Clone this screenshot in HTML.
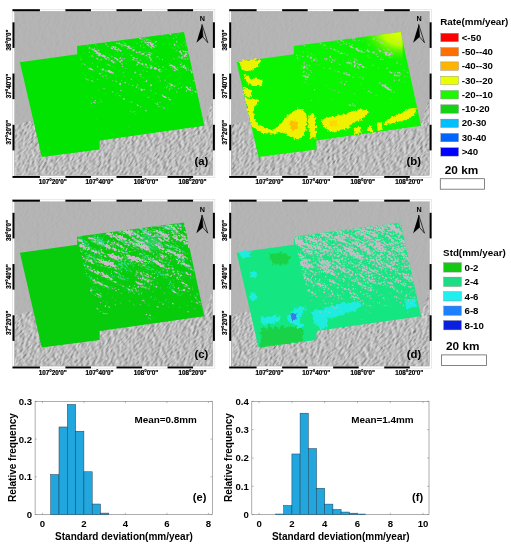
<!DOCTYPE html><html><head><meta charset="utf-8"><style>html,body{margin:0;padding:0;background:#fff;overflow:hidden}svg{display:block;will-change:transform}</style></head><body><svg width="511" height="550" viewBox="0 0 511 550">
<defs>
<filter id="hill" x="-50%" y="-50%" width="200%" height="200%" color-interpolation-filters="sRGB"><feTurbulence type="fractalNoise" baseFrequency="0.2 0.8" numOctaves="3" seed="4" result="n"/><feDiffuseLighting in="n" surfaceScale="1.2" diffuseConstant="0.91" lighting-color="#ffffff" result="l"><feDistantLight azimuth="225" elevation="55"/></feDiffuseLighting><feComposite in="l" in2="SourceGraphic" operator="in"/></filter>
<filter id="rag" x="-20%" y="-20%" width="140%" height="140%"><feTurbulence type="fractalNoise" baseFrequency="0.35" numOctaves="2" seed="2" result="t"/><feDisplacementMap in="SourceGraphic" in2="t" scale="5" xChannelSelector="R" yChannelSelector="G"/></filter>
<filter id="spkA" x="0" y="0" width="100%" height="100%" color-interpolation-filters="sRGB"><feTurbulence type="fractalNoise" baseFrequency="0.05 0.25" numOctaves="3" seed="3" result="t1"/><feColorMatrix in="t1" type="matrix" values="0 0 0 0 0  0 0 0 0 0  0 0 0 0 0  1 0 0 0 0" result="a1"/><feTurbulence type="fractalNoise" baseFrequency="0.5 0.9" numOctaves="1" seed="53" result="t2"/><feColorMatrix in="t2" type="matrix" values="0 0 0 0 0  0 0 0 0 0  0 0 0 0 0  1 0 0 0 0" result="a2"/><feComposite in="a1" in2="a2" operator="arithmetic" k1="0" k2="0.6" k3="0.6" k4="0" result="a12"/><feComposite in="a12" in2="SourceAlpha" operator="arithmetic" k1="0" k2="1" k3="0.25" k4="-0.925" result="sum"/><feComponentTransfer in="sum"><feFuncA type="linear" slope="14" intercept="0"/></feComponentTransfer><feColorMatrix type="matrix" values="0 0 0 0 0.784  0 0 0 0 0.737  0 0 0 0 0.784  0 0 0 1 0"/></filter>
<filter id="spkB" x="0" y="0" width="100%" height="100%" color-interpolation-filters="sRGB"><feTurbulence type="fractalNoise" baseFrequency="0.05 0.25" numOctaves="3" seed="4" result="t1"/><feColorMatrix in="t1" type="matrix" values="0 0 0 0 0  0 0 0 0 0  0 0 0 0 0  1 0 0 0 0" result="a1"/><feTurbulence type="fractalNoise" baseFrequency="0.5 0.9" numOctaves="1" seed="54" result="t2"/><feColorMatrix in="t2" type="matrix" values="0 0 0 0 0  0 0 0 0 0  0 0 0 0 0  1 0 0 0 0" result="a2"/><feComposite in="a1" in2="a2" operator="arithmetic" k1="0" k2="0.6" k3="0.6" k4="0" result="a12"/><feComposite in="a12" in2="SourceAlpha" operator="arithmetic" k1="0" k2="1" k3="0.25" k4="-0.95" result="sum"/><feComponentTransfer in="sum"><feFuncA type="linear" slope="14" intercept="0"/></feComponentTransfer><feColorMatrix type="matrix" values="0 0 0 0 0.784  0 0 0 0 0.737  0 0 0 0 0.784  0 0 0 1 0"/></filter>
<filter id="spkC" x="0" y="0" width="100%" height="100%" color-interpolation-filters="sRGB"><feTurbulence type="fractalNoise" baseFrequency="0.05 0.25" numOctaves="3" seed="5" result="t1"/><feColorMatrix in="t1" type="matrix" values="0 0 0 0 0  0 0 0 0 0  0 0 0 0 0  1 0 0 0 0" result="a1"/><feTurbulence type="fractalNoise" baseFrequency="0.5 0.9" numOctaves="1" seed="55" result="t2"/><feColorMatrix in="t2" type="matrix" values="0 0 0 0 0  0 0 0 0 0  0 0 0 0 0  1 0 0 0 0" result="a2"/><feComposite in="a1" in2="a2" operator="arithmetic" k1="0" k2="0.6" k3="0.6" k4="0" result="a12"/><feComposite in="a12" in2="SourceAlpha" operator="arithmetic" k1="0" k2="1" k3="0.25" k4="-0.86" result="sum"/><feComponentTransfer in="sum"><feFuncA type="linear" slope="14" intercept="0"/></feComponentTransfer><feColorMatrix type="matrix" values="0 0 0 0 0.784  0 0 0 0 0.737  0 0 0 0 0.784  0 0 0 1 0"/></filter>
<filter id="spkCt" x="0" y="0" width="100%" height="100%" color-interpolation-filters="sRGB"><feTurbulence type="fractalNoise" baseFrequency="0.06 0.25" numOctaves="3" seed="8" result="t1"/><feColorMatrix in="t1" type="matrix" values="0 0 0 0 0  0 0 0 0 0  0 0 0 0 0  1 0 0 0 0" result="a1"/><feTurbulence type="fractalNoise" baseFrequency="0.5 0.9" numOctaves="1" seed="58" result="t2"/><feColorMatrix in="t2" type="matrix" values="0 0 0 0 0  0 0 0 0 0  0 0 0 0 0  1 0 0 0 0" result="a2"/><feComposite in="a1" in2="a2" operator="arithmetic" k1="0" k2="0.6" k3="0.6" k4="0" result="a12"/><feComposite in="a12" in2="SourceAlpha" operator="arithmetic" k1="0" k2="1" k3="0.25" k4="-0.9" result="sum"/><feComponentTransfer in="sum"><feFuncA type="linear" slope="12" intercept="0"/></feComponentTransfer><feColorMatrix type="matrix" values="0 0 0 0 0.188  0 0 0 0 0.847  0 0 0 0 0.565  0 0 0 1 0"/></filter>
<filter id="spkD" x="0" y="0" width="100%" height="100%" color-interpolation-filters="sRGB"><feTurbulence type="fractalNoise" baseFrequency="0.05 0.25" numOctaves="3" seed="7" result="t1"/><feColorMatrix in="t1" type="matrix" values="0 0 0 0 0  0 0 0 0 0  0 0 0 0 0  1 0 0 0 0" result="a1"/><feTurbulence type="fractalNoise" baseFrequency="0.5 0.9" numOctaves="1" seed="57" result="t2"/><feColorMatrix in="t2" type="matrix" values="0 0 0 0 0  0 0 0 0 0  0 0 0 0 0  1 0 0 0 0" result="a2"/><feComposite in="a1" in2="a2" operator="arithmetic" k1="0" k2="0.45" k3="0.75" k4="0" result="a12"/><feComposite in="a12" in2="SourceAlpha" operator="arithmetic" k1="0" k2="1" k3="0.3" k4="-0.86" result="sum"/><feComponentTransfer in="sum"><feFuncA type="linear" slope="14" intercept="0"/></feComponentTransfer><feColorMatrix type="matrix" values="0 0 0 0 0.769  0 0 0 0 0.737  0 0 0 0 0.769  0 0 0 1 0"/></filter>
<linearGradient id="dens" x1="0" y1="0" x2="0" y2="1"><stop offset="0" stop-color="#000" stop-opacity="1"/><stop offset="0.55" stop-color="#000" stop-opacity="0.75"/><stop offset="1" stop-color="#000" stop-opacity="0"/></linearGradient>
<radialGradient id="ycorner" cx="1" cy="0" r="1"><stop offset="0" stop-color="#f0ff00"/><stop offset="0.45" stop-color="#d8ff00" stop-opacity="0.85"/><stop offset="1" stop-color="#10ee00" stop-opacity="0"/></radialGradient>
<linearGradient id="smooth" x1="0" y1="0" x2="0" y2="1"><stop offset="0" stop-color="#b6b6b6"/><stop offset="1" stop-color="#b6b6b6" stop-opacity="0"/></linearGradient>
</defs>
<rect width="511" height="550" fill="#fff"/>
<clipPath id="clipa"><rect x="14.5" y="11.2" width="198.4" height="164.4"/></clipPath>
<g clip-path="url(#clipa)">
<rect x="14.5" y="11.2" width="198.4" height="164.4" fill="#b4b4b4"/>
<g opacity="0.08"><g transform="rotate(-48 110 90)"><rect x="-40" y="-40" width="300" height="260" fill="#b4b4b4" filter="url(#hill)"/></g></g>
<clipPath id="hsa"><polygon points="14.2,125.0 30.0,121.0 40.0,121.0 99.0,139.0 204.0,124.0 212.9,98.0 212.9,175.6 14.2,175.6"/></clipPath>
<g clip-path="url(#hsa)"><g transform="rotate(-48 110 150)"><rect x="-20" y="60" width="260" height="180" fill="#bdbdbd" filter="url(#hill)"/></g></g>
<polygon points="19.9,62.3 77.2,54.2 77.1,46.1 184.0,32.0 204.4,125.7 99.7,140.4 99.7,149.4 41.8,157.0" fill="#00e400"/><linearGradient id="gaspkA" gradientUnits="userSpaceOnUse" x1="119.0" y1="35.9" x2="168.3" y2="128.6"><stop offset="0.000" stop-color="#000" stop-opacity="1.0"/><stop offset="0.429" stop-color="#000" stop-opacity="0.85"/><stop offset="0.714" stop-color="#000" stop-opacity="0.55"/><stop offset="1.000" stop-color="#000" stop-opacity="0.0"/></linearGradient><clipPath id="rfaspkA"><polygon points="77.1,46.1 184.0,32.0 204.4,125.7 99.7,140.4"/></clipPath><g clip-path="url(#rfaspkA)"><g transform="rotate(28 142.5 80.0)"><rect x="30" y="-20" width="225" height="200" fill="url(#gaspkA)" filter="url(#spkA)"/></g></g>
</g>
<rect x="13.0" y="9.7" width="201.4" height="167.4" fill="none" stroke="#fff" stroke-width="1"/>
<rect x="12.5" y="9.2" width="202.4" height="168.4" fill="none" stroke="#c8c8c8" stroke-width="0.4"/>
<rect x="14.5" y="11.2" width="198.4" height="164.4" fill="none" stroke="#999" stroke-width="0.4"/>
<rect x="12.50" y="9.2" width="27.40" height="2.0" fill="#000"/>
<rect x="12.50" y="176.0" width="27.40" height="1.9" fill="#000"/>
<rect x="65.43" y="9.2" width="25.53" height="2.0" fill="#000"/>
<rect x="65.43" y="176.0" width="25.53" height="1.9" fill="#000"/>
<rect x="116.49" y="9.2" width="25.53" height="2.0" fill="#000"/>
<rect x="116.49" y="176.0" width="25.53" height="1.9" fill="#000"/>
<rect x="167.55" y="9.2" width="25.53" height="2.0" fill="#000"/>
<rect x="167.55" y="176.0" width="25.53" height="1.9" fill="#000"/>
<rect x="12.5" y="22.30" width="2.0" height="25.62" fill="#000"/>
<rect x="212.9" y="22.30" width="2.0" height="25.62" fill="#000"/>
<rect x="12.5" y="73.54" width="2.0" height="25.62" fill="#000"/>
<rect x="212.9" y="73.54" width="2.0" height="25.62" fill="#000"/>
<rect x="12.5" y="124.78" width="2.0" height="25.62" fill="#000"/>
<rect x="212.9" y="124.78" width="2.0" height="25.62" fill="#000"/>
<text font-family="Liberation Sans, sans-serif" font-weight="bold" font-size="6.3" stroke="#000" stroke-width="0.22" text-anchor="middle" transform="translate(10.6 39.9) rotate(-90)">38°0'0"</text>
<text font-family="Liberation Sans, sans-serif" font-weight="bold" font-size="6.3" stroke="#000" stroke-width="0.22" text-anchor="middle" transform="translate(10.6 86.1) rotate(-90)">37°40'0"</text>
<text font-family="Liberation Sans, sans-serif" font-weight="bold" font-size="6.3" stroke="#000" stroke-width="0.22" text-anchor="middle" transform="translate(10.6 132.3) rotate(-90)">37°20'0"</text>
<text font-family="Liberation Sans, sans-serif" font-weight="bold" font-size="6.3" stroke="#000" stroke-width="0.22" text-anchor="middle" x="52.8" y="184.3">107°20'0"</text>
<text font-family="Liberation Sans, sans-serif" font-weight="bold" font-size="6.3" stroke="#000" stroke-width="0.22" text-anchor="middle" x="99.5" y="184.3">107°40'0"</text>
<text font-family="Liberation Sans, sans-serif" font-weight="bold" font-size="6.3" stroke="#000" stroke-width="0.22" text-anchor="middle" x="146.0" y="184.3">108°0'0"</text>
<text font-family="Liberation Sans, sans-serif" font-weight="bold" font-size="6.3" stroke="#000" stroke-width="0.22" text-anchor="middle" x="192.5" y="184.3">108°20'0"</text>
<text font-family="Liberation Sans, sans-serif" font-weight="bold" font-size="7.2" text-anchor="middle" x="202.4" y="21.1">N</text>
<polygon points="202.0,24.5 196.4,42.7 202.9,36.9" fill="#000"/>
<polygon points="202.0,24.5 207.8,42.7 202.9,36.9" fill="none" stroke="#000" stroke-width="0.7" stroke-linejoin="miter"/>
<text font-family="Liberation Sans, sans-serif" font-weight="bold" font-size="11.4" x="194.4" y="164.5">(a)</text>
<clipPath id="clipb"><rect x="231.2" y="11.2" width="198.4" height="164.4"/></clipPath>
<g clip-path="url(#clipb)">
<rect x="231.2" y="11.2" width="198.4" height="164.4" fill="#b4b4b4"/>
<g opacity="0.08"><g transform="rotate(-48 326.7 90)"><rect x="176.7" y="-40" width="300" height="260" fill="#b4b4b4" filter="url(#hill)"/></g></g>
<clipPath id="hsb"><polygon points="230.9,125.0 246.7,121.0 256.7,121.0 315.7,139.0 420.7,124.0 429.6,98.0 429.6,175.6 230.9,175.6"/></clipPath>
<g clip-path="url(#hsb)"><g transform="rotate(-48 326.7 150)"><rect x="196.7" y="60" width="260" height="180" fill="#bdbdbd" filter="url(#hill)"/></g></g>
<polygon points="236.6,62.3 293.9,54.2 293.8,46.1 400.7,32.0 421.1,125.7 316.4,140.4 316.4,149.4 258.5,157.0" fill="#0af500"/><g transform="translate(216.7 0.0)"><g filter="url(#rag)"><path d="M23,61 L30,60 L38,59.5 L43,60 L43.5,64 L40,67 L36,70.5 L30,71 L25,69 L23.5,65 Z" fill="#eef200"/><path d="M27,75 L31,76 L35,78.5 L40,78.5 L45.5,80 L45.5,84.5 L41,86 L36,86 L32,84 L29,80 Z" fill="#eef200"/><path d="M26.5,87.5 L31,88 L35,90 L35.5,94 L33,97 L29,97.5 L27.5,93 Z" fill="#eef200"/><path d="M29,98 L36,98 L41,100 L41.5,104 L37.5,106.5 L37,113 L38.5,120 L41,124 L45,127 L50,129 L55,129.5 L59,128 L62.5,125 L66,122 L68,125 L67,132 L60,133.5 L51,133.5 L45,132 L39,129.5 L35,126 L33,119 L31,110 L29.5,104 Z" fill="#eef200"/><path d="M66,121 L69,116.5 L73,114 L77,112.5 L80,109.5 L84,109 L87.5,110.5 L89.5,114 L90,119 L89.5,126 L88.5,132 L86.5,136.5 L82,139.5 L77,138.5 L72,136 L68,133.5 L66,128 Z" fill="#eef200"/><path d="M91.5,114 L97,113.5 L99,120 L99.5,130 L99,138.5 L94,138 L92,130 Z" fill="#eef200"/><path d="M104,120 L112,117 L120,116 L128,114 L136,111 L142,109.5 L150,109 L151,113 L148,118 L140,121 L134,124 L128,128 L122,131 L116,133 L110,130 L106,125 Z" fill="#eef200"/><path d="M123.5,122.5 L132.5,122 L133,129 L124,129.5 Z" fill="#eef200"/><path d="M137,127.5 L144,127 L145,133.5 L138,134 Z" fill="#eef200"/><path d="M151,126 L155,126 L156,132 L151,132 Z" fill="#eef200"/><path d="M160,123 L165,122 L166,130 L161,131 Z" fill="#eef200"/><path d="M168,121 L174,118 L180,115 L186,112 L193,108.5 L199,108 L199.5,114 L194,117 L189,120 L180,122 L173,124.5 L168,124.5 Z" fill="#eef200"/><path d="M73,121.5 L80,120.5 L81.5,127 L79,130.5 L74,130 Z" fill="#ffbe00"/><path d="M112,121 L120,120 L121,126 L113,127 Z" fill="#ffd800"/></g></g><clipPath id="cb"><polygon points="236.6,62.3 293.9,54.2 293.8,46.1 400.7,32.0 421.1,125.7 316.4,140.4 316.4,149.4 258.5,157.0"/></clipPath><rect x="356.7" y="30" width="46" height="34" fill="url(#ycorner)" clip-path="url(#cb)"/><linearGradient id="gbspkB" gradientUnits="userSpaceOnUse" x1="335.7" y1="35.9" x2="385.0" y2="128.6"><stop offset="0.000" stop-color="#000" stop-opacity="1.0"/><stop offset="0.429" stop-color="#000" stop-opacity="0.85"/><stop offset="0.714" stop-color="#000" stop-opacity="0.55"/><stop offset="1.000" stop-color="#000" stop-opacity="0.0"/></linearGradient><clipPath id="rfbspkB"><polygon points="293.8,46.1 400.7,32.0 421.1,125.7 316.4,140.4"/></clipPath><g clip-path="url(#rfbspkB)"><g transform="rotate(28 359.2 80.0)"><rect x="246.7" y="-20" width="225" height="200" fill="url(#gbspkB)" filter="url(#spkB)"/></g></g>
</g>
<rect x="229.7" y="9.7" width="201.4" height="167.4" fill="none" stroke="#fff" stroke-width="1"/>
<rect x="229.2" y="9.2" width="202.4" height="168.4" fill="none" stroke="#c8c8c8" stroke-width="0.4"/>
<rect x="231.2" y="11.2" width="198.4" height="164.4" fill="none" stroke="#999" stroke-width="0.4"/>
<rect x="229.20" y="9.2" width="27.40" height="2.0" fill="#000"/>
<rect x="229.20" y="176.0" width="27.40" height="1.9" fill="#000"/>
<rect x="282.13" y="9.2" width="25.53" height="2.0" fill="#000"/>
<rect x="282.13" y="176.0" width="25.53" height="1.9" fill="#000"/>
<rect x="333.19" y="9.2" width="25.53" height="2.0" fill="#000"/>
<rect x="333.19" y="176.0" width="25.53" height="1.9" fill="#000"/>
<rect x="384.25" y="9.2" width="25.53" height="2.0" fill="#000"/>
<rect x="384.25" y="176.0" width="25.53" height="1.9" fill="#000"/>
<rect x="229.2" y="22.30" width="2.0" height="25.62" fill="#000"/>
<rect x="429.6" y="22.30" width="2.0" height="25.62" fill="#000"/>
<rect x="229.2" y="73.54" width="2.0" height="25.62" fill="#000"/>
<rect x="429.6" y="73.54" width="2.0" height="25.62" fill="#000"/>
<rect x="229.2" y="124.78" width="2.0" height="25.62" fill="#000"/>
<rect x="429.6" y="124.78" width="2.0" height="25.62" fill="#000"/>
<text font-family="Liberation Sans, sans-serif" font-weight="bold" font-size="6.3" stroke="#000" stroke-width="0.22" text-anchor="middle" transform="translate(227.3 39.9) rotate(-90)">38°0'0"</text>
<text font-family="Liberation Sans, sans-serif" font-weight="bold" font-size="6.3" stroke="#000" stroke-width="0.22" text-anchor="middle" transform="translate(227.3 86.1) rotate(-90)">37°40'0"</text>
<text font-family="Liberation Sans, sans-serif" font-weight="bold" font-size="6.3" stroke="#000" stroke-width="0.22" text-anchor="middle" transform="translate(227.3 132.3) rotate(-90)">37°20'0"</text>
<text font-family="Liberation Sans, sans-serif" font-weight="bold" font-size="6.3" stroke="#000" stroke-width="0.22" text-anchor="middle" x="269.5" y="184.3">107°20'0"</text>
<text font-family="Liberation Sans, sans-serif" font-weight="bold" font-size="6.3" stroke="#000" stroke-width="0.22" text-anchor="middle" x="316.2" y="184.3">107°40'0"</text>
<text font-family="Liberation Sans, sans-serif" font-weight="bold" font-size="6.3" stroke="#000" stroke-width="0.22" text-anchor="middle" x="362.7" y="184.3">108°0'0"</text>
<text font-family="Liberation Sans, sans-serif" font-weight="bold" font-size="6.3" stroke="#000" stroke-width="0.22" text-anchor="middle" x="409.2" y="184.3">108°20'0"</text>
<text font-family="Liberation Sans, sans-serif" font-weight="bold" font-size="7.2" text-anchor="middle" x="419.1" y="21.1">N</text>
<polygon points="418.7,24.5 413.1,42.7 419.6,36.9" fill="#000"/>
<polygon points="418.7,24.5 424.5,42.7 419.6,36.9" fill="none" stroke="#000" stroke-width="0.7" stroke-linejoin="miter"/>
<text font-family="Liberation Sans, sans-serif" font-weight="bold" font-size="11.4" x="406.5" y="164.8">(b)</text>
<clipPath id="clipc"><rect x="14.5" y="201.7" width="198.4" height="164.4"/></clipPath>
<g clip-path="url(#clipc)">
<rect x="14.5" y="201.7" width="198.4" height="164.4" fill="#b4b4b4"/>
<g opacity="0.08"><g transform="rotate(-48 110 280.5)"><rect x="-40" y="150.5" width="300" height="260" fill="#b4b4b4" filter="url(#hill)"/></g></g>
<clipPath id="hsc"><polygon points="14.2,315.5 30.0,311.5 40.0,311.5 99.0,329.5 204.0,314.5 212.9,288.5 212.9,366.1 14.2,366.1"/></clipPath>
<g clip-path="url(#hsc)"><g transform="rotate(-48 110 340.5)"><rect x="-20" y="250.5" width="260" height="180" fill="#bdbdbd" filter="url(#hill)"/></g></g>
<polygon points="19.9,252.8 77.2,244.7 77.1,236.6 184.0,222.5 204.4,316.2 99.7,330.9 99.7,339.9 41.8,347.5" fill="#06cc0c"/><ellipse cx="151" cy="242.5" rx="12" ry="7" fill="#30d27a" opacity="0.6" transform="rotate(20 151 242.5)"/><linearGradient id="gcspkCt" gradientUnits="userSpaceOnUse" x1="119.0" y1="226.4" x2="168.3" y2="319.1"><stop offset="0.000" stop-color="#000" stop-opacity="1.0"/><stop offset="0.429" stop-color="#000" stop-opacity="0.85"/><stop offset="0.714" stop-color="#000" stop-opacity="0.55"/><stop offset="1.000" stop-color="#000" stop-opacity="0.0"/></linearGradient><clipPath id="rfcspkCt"><polygon points="77.1,236.6 184.0,222.5 204.4,316.2 99.7,330.9"/></clipPath><g clip-path="url(#rfcspkCt)"><g transform="rotate(28 142.5 270.5)"><rect x="30" y="170.5" width="225" height="200" fill="url(#gcspkCt)" filter="url(#spkCt)"/></g></g><linearGradient id="gcspkC" gradientUnits="userSpaceOnUse" x1="119.0" y1="226.4" x2="168.3" y2="319.1"><stop offset="0.000" stop-color="#000" stop-opacity="1.0"/><stop offset="0.429" stop-color="#000" stop-opacity="0.85"/><stop offset="0.714" stop-color="#000" stop-opacity="0.55"/><stop offset="1.000" stop-color="#000" stop-opacity="0.0"/></linearGradient><clipPath id="rfcspkC"><polygon points="77.1,236.6 184.0,222.5 204.4,316.2 99.7,330.9"/></clipPath><g clip-path="url(#rfcspkC)"><g transform="rotate(28 142.5 270.5)"><rect x="30" y="170.5" width="225" height="200" fill="url(#gcspkC)" filter="url(#spkC)"/></g></g>
</g>
<rect x="13.0" y="200.2" width="201.4" height="167.4" fill="none" stroke="#fff" stroke-width="1"/>
<rect x="12.5" y="199.7" width="202.4" height="168.4" fill="none" stroke="#c8c8c8" stroke-width="0.4"/>
<rect x="14.5" y="201.7" width="198.4" height="164.4" fill="none" stroke="#999" stroke-width="0.4"/>
<rect x="12.50" y="199.7" width="27.40" height="2.0" fill="#000"/>
<rect x="12.50" y="366.5" width="27.40" height="1.9" fill="#000"/>
<rect x="65.43" y="199.7" width="25.53" height="2.0" fill="#000"/>
<rect x="65.43" y="366.5" width="25.53" height="1.9" fill="#000"/>
<rect x="116.49" y="199.7" width="25.53" height="2.0" fill="#000"/>
<rect x="116.49" y="366.5" width="25.53" height="1.9" fill="#000"/>
<rect x="167.55" y="199.7" width="25.53" height="2.0" fill="#000"/>
<rect x="167.55" y="366.5" width="25.53" height="1.9" fill="#000"/>
<rect x="12.5" y="212.80" width="2.0" height="25.62" fill="#000"/>
<rect x="212.9" y="212.80" width="2.0" height="25.62" fill="#000"/>
<rect x="12.5" y="264.04" width="2.0" height="25.62" fill="#000"/>
<rect x="212.9" y="264.04" width="2.0" height="25.62" fill="#000"/>
<rect x="12.5" y="315.28" width="2.0" height="25.62" fill="#000"/>
<rect x="212.9" y="315.28" width="2.0" height="25.62" fill="#000"/>
<text font-family="Liberation Sans, sans-serif" font-weight="bold" font-size="6.3" stroke="#000" stroke-width="0.22" text-anchor="middle" transform="translate(10.6 230.4) rotate(-90)">38°0'0"</text>
<text font-family="Liberation Sans, sans-serif" font-weight="bold" font-size="6.3" stroke="#000" stroke-width="0.22" text-anchor="middle" transform="translate(10.6 276.6) rotate(-90)">37°40'0"</text>
<text font-family="Liberation Sans, sans-serif" font-weight="bold" font-size="6.3" stroke="#000" stroke-width="0.22" text-anchor="middle" transform="translate(10.6 322.8) rotate(-90)">37°20'0"</text>
<text font-family="Liberation Sans, sans-serif" font-weight="bold" font-size="6.3" stroke="#000" stroke-width="0.22" text-anchor="middle" x="52.8" y="374.8">107°20'0"</text>
<text font-family="Liberation Sans, sans-serif" font-weight="bold" font-size="6.3" stroke="#000" stroke-width="0.22" text-anchor="middle" x="99.5" y="374.8">107°40'0"</text>
<text font-family="Liberation Sans, sans-serif" font-weight="bold" font-size="6.3" stroke="#000" stroke-width="0.22" text-anchor="middle" x="146.0" y="374.8">108°0'0"</text>
<text font-family="Liberation Sans, sans-serif" font-weight="bold" font-size="6.3" stroke="#000" stroke-width="0.22" text-anchor="middle" x="192.5" y="374.8">108°20'0"</text>
<text font-family="Liberation Sans, sans-serif" font-weight="bold" font-size="7.2" text-anchor="middle" x="202.4" y="211.6">N</text>
<polygon points="202.0,215.0 196.4,233.2 202.9,227.4" fill="#000"/>
<polygon points="202.0,215.0 207.8,233.2 202.9,227.4" fill="none" stroke="#000" stroke-width="0.7" stroke-linejoin="miter"/>
<text font-family="Liberation Sans, sans-serif" font-weight="bold" font-size="11.4" x="194.4" y="358.0">(c)</text>
<clipPath id="clipd"><rect x="231.2" y="201.7" width="198.4" height="164.4"/></clipPath>
<g clip-path="url(#clipd)">
<rect x="231.2" y="201.7" width="198.4" height="164.4" fill="#b4b4b4"/>
<g opacity="0.08"><g transform="rotate(-48 326.7 280.5)"><rect x="176.7" y="150.5" width="300" height="260" fill="#b4b4b4" filter="url(#hill)"/></g></g>
<clipPath id="hsd"><polygon points="230.9,315.5 246.7,311.5 256.7,311.5 315.7,329.5 420.7,314.5 429.6,288.5 429.6,366.1 230.9,366.1"/></clipPath>
<g clip-path="url(#hsd)"><g transform="rotate(-48 326.7 340.5)"><rect x="196.7" y="250.5" width="260" height="180" fill="#bdbdbd" filter="url(#hill)"/></g></g>
<polygon points="236.6,252.8 293.9,244.7 293.8,236.6 400.7,222.5 421.1,316.2 316.4,330.9 316.4,339.9 258.5,347.5" fill="#14e682"/><g transform="translate(216.7 190.5)"><g filter="url(#rag)"><path d="M44,141 L47,136 L50,140 L53,133 L56,139 L59,134 L62,139 L65,134 L68,138 L72,135 L77,137 L82,135 L86,137 L86,151 L44,157 Z" fill="#1ecb32bb"/><path d="M52,64 L66,62 L74,67 L70,74 L56,74 Z" fill="#1ecb32bb"/><path d="M22,61 L34,60 L33,66 L25,68 Z" fill="#22eeeedd"/><path d="M44,127 L52,126 L58,125 L64,126 L63,131 L56,133 L48,134 L44,131 Z" fill="#22eeeedd"/><path d="M70,126 L76,121 L80,117 L86,115.5 L89,118 L85,124 L83,130 L87,136 L82,138 L77,133.5 L72,131 Z" fill="#22eeeedd"/><path d="M94,122 L100,119 L106,121 L111,129 L110,137 L104,139 L98,132 Z" fill="#22eeeedd"/><path d="M106,118 L118,114 L130,112 L142,111.5 L145,115 L138,120 L126,124 L114,128 L108,126 Z" fill="#22eeeedd"/><path d="M188,110 L199,108 L200,116 L190,118 Z" fill="#22eeeedd"/><path d="M33,81 L40,80.5 L41,86 L34,87 Z" fill="#22eeeedd"/><path d="M33,103 L39,103 L40,109 L34,110 Z" fill="#22eeeedd"/><path d="M74,123 L79.5,122 L80,129 L75,130 Z" fill="#3a78e8"/></g></g><linearGradient id="gdspkD" gradientUnits="userSpaceOnUse" x1="335.7" y1="226.4" x2="385.0" y2="319.1"><stop offset="0.000" stop-color="#000" stop-opacity="1.0"/><stop offset="0.429" stop-color="#000" stop-opacity="0.85"/><stop offset="0.714" stop-color="#000" stop-opacity="0.55"/><stop offset="1.000" stop-color="#000" stop-opacity="0.0"/></linearGradient><clipPath id="rfdspkD"><polygon points="293.8,236.6 400.7,222.5 421.1,316.2 316.4,330.9"/></clipPath><g clip-path="url(#rfdspkD)"><g transform="rotate(28 359.2 270.5)"><rect x="246.7" y="170.5" width="225" height="200" fill="url(#gdspkD)" filter="url(#spkD)"/></g></g>
</g>
<rect x="229.7" y="200.2" width="201.4" height="167.4" fill="none" stroke="#fff" stroke-width="1"/>
<rect x="229.2" y="199.7" width="202.4" height="168.4" fill="none" stroke="#c8c8c8" stroke-width="0.4"/>
<rect x="231.2" y="201.7" width="198.4" height="164.4" fill="none" stroke="#999" stroke-width="0.4"/>
<rect x="229.20" y="199.7" width="27.40" height="2.0" fill="#000"/>
<rect x="229.20" y="366.5" width="27.40" height="1.9" fill="#000"/>
<rect x="282.13" y="199.7" width="25.53" height="2.0" fill="#000"/>
<rect x="282.13" y="366.5" width="25.53" height="1.9" fill="#000"/>
<rect x="333.19" y="199.7" width="25.53" height="2.0" fill="#000"/>
<rect x="333.19" y="366.5" width="25.53" height="1.9" fill="#000"/>
<rect x="384.25" y="199.7" width="25.53" height="2.0" fill="#000"/>
<rect x="384.25" y="366.5" width="25.53" height="1.9" fill="#000"/>
<rect x="229.2" y="212.80" width="2.0" height="25.62" fill="#000"/>
<rect x="429.6" y="212.80" width="2.0" height="25.62" fill="#000"/>
<rect x="229.2" y="264.04" width="2.0" height="25.62" fill="#000"/>
<rect x="429.6" y="264.04" width="2.0" height="25.62" fill="#000"/>
<rect x="229.2" y="315.28" width="2.0" height="25.62" fill="#000"/>
<rect x="429.6" y="315.28" width="2.0" height="25.62" fill="#000"/>
<text font-family="Liberation Sans, sans-serif" font-weight="bold" font-size="6.3" stroke="#000" stroke-width="0.22" text-anchor="middle" transform="translate(227.3 230.4) rotate(-90)">38°0'0"</text>
<text font-family="Liberation Sans, sans-serif" font-weight="bold" font-size="6.3" stroke="#000" stroke-width="0.22" text-anchor="middle" transform="translate(227.3 276.6) rotate(-90)">37°40'0"</text>
<text font-family="Liberation Sans, sans-serif" font-weight="bold" font-size="6.3" stroke="#000" stroke-width="0.22" text-anchor="middle" transform="translate(227.3 322.8) rotate(-90)">37°20'0"</text>
<text font-family="Liberation Sans, sans-serif" font-weight="bold" font-size="6.3" stroke="#000" stroke-width="0.22" text-anchor="middle" x="269.5" y="374.8">107°20'0"</text>
<text font-family="Liberation Sans, sans-serif" font-weight="bold" font-size="6.3" stroke="#000" stroke-width="0.22" text-anchor="middle" x="316.2" y="374.8">107°40'0"</text>
<text font-family="Liberation Sans, sans-serif" font-weight="bold" font-size="6.3" stroke="#000" stroke-width="0.22" text-anchor="middle" x="362.7" y="374.8">108°0'0"</text>
<text font-family="Liberation Sans, sans-serif" font-weight="bold" font-size="6.3" stroke="#000" stroke-width="0.22" text-anchor="middle" x="409.2" y="374.8">108°20'0"</text>
<text font-family="Liberation Sans, sans-serif" font-weight="bold" font-size="7.2" text-anchor="middle" x="419.1" y="211.6">N</text>
<polygon points="418.7,215.0 413.1,233.2 419.6,227.4" fill="#000"/>
<polygon points="418.7,215.0 424.5,233.2 419.6,227.4" fill="none" stroke="#000" stroke-width="0.7" stroke-linejoin="miter"/>
<text font-family="Liberation Sans, sans-serif" font-weight="bold" font-size="11.4" x="406.7" y="358.0">(d)</text>
<text font-family="Liberation Sans, sans-serif" font-weight="bold" font-size="9.8" x="440.3" y="25.4">Rate(mm/year)</text>
<rect x="440.8" y="33.3" width="17.7" height="8.4" fill="#ff0000" stroke="#888" stroke-width="0.4"/>
<text font-family="Liberation Sans, sans-serif" font-weight="bold" font-size="9.7" x="461.7" y="40.6">&lt;-50</text>
<rect x="440.8" y="47.6" width="17.7" height="8.4" fill="#ff6e00" stroke="#888" stroke-width="0.4"/>
<text font-family="Liberation Sans, sans-serif" font-weight="bold" font-size="9.7" x="461.7" y="54.9">-50--40</text>
<rect x="440.8" y="61.9" width="17.7" height="8.4" fill="#ffb400" stroke="#888" stroke-width="0.4"/>
<text font-family="Liberation Sans, sans-serif" font-weight="bold" font-size="9.7" x="461.7" y="69.2">-40--30</text>
<rect x="440.8" y="76.2" width="17.7" height="8.4" fill="#e8ff00" stroke="#888" stroke-width="0.4"/>
<text font-family="Liberation Sans, sans-serif" font-weight="bold" font-size="9.7" x="461.7" y="83.5">-30--20</text>
<rect x="440.8" y="90.5" width="17.7" height="8.4" fill="#1cf800" stroke="#888" stroke-width="0.4"/>
<text font-family="Liberation Sans, sans-serif" font-weight="bold" font-size="9.7" x="461.7" y="97.8">-20--10</text>
<rect x="440.8" y="104.8" width="17.7" height="8.4" fill="#12d412" stroke="#888" stroke-width="0.4"/>
<text font-family="Liberation Sans, sans-serif" font-weight="bold" font-size="9.7" x="461.7" y="112.1">-10-20</text>
<rect x="440.8" y="119.1" width="17.7" height="8.4" fill="#00bfff" stroke="#888" stroke-width="0.4"/>
<text font-family="Liberation Sans, sans-serif" font-weight="bold" font-size="9.7" x="461.7" y="126.4">20-30</text>
<rect x="440.8" y="133.4" width="17.7" height="8.4" fill="#0064ff" stroke="#888" stroke-width="0.4"/>
<text font-family="Liberation Sans, sans-serif" font-weight="bold" font-size="9.7" x="461.7" y="140.7">30-40</text>
<rect x="440.8" y="147.7" width="17.7" height="8.4" fill="#0000ff" stroke="#888" stroke-width="0.4"/>
<text font-family="Liberation Sans, sans-serif" font-weight="bold" font-size="9.7" x="461.7" y="155.0">&gt;40</text>
<text font-family="Liberation Sans, sans-serif" font-weight="bold" font-size="11.8" x="444.8" y="173.9">20 km</text>
<rect x="440.3" y="178.7" width="44.3" height="10.5" fill="#fff" stroke="#666" stroke-width="0.8"/>
<text font-family="Liberation Sans, sans-serif" font-weight="bold" font-size="9.8" x="443.1" y="255.9">Std(mm/year)</text>
<rect x="443.6" y="262.7" width="17.8" height="9.4" fill="#14c814" stroke="#888" stroke-width="0.4"/>
<text font-family="Liberation Sans, sans-serif" font-weight="bold" font-size="9.7" x="464.5" y="271.0">0-2</text>
<rect x="443.6" y="277.1" width="17.8" height="9.4" fill="#1edc84" stroke="#888" stroke-width="0.4"/>
<text font-family="Liberation Sans, sans-serif" font-weight="bold" font-size="9.7" x="464.5" y="285.4">2-4</text>
<rect x="443.6" y="291.6" width="17.8" height="9.4" fill="#22eeee" stroke="#888" stroke-width="0.4"/>
<text font-family="Liberation Sans, sans-serif" font-weight="bold" font-size="9.7" x="464.5" y="299.9">4-6</text>
<rect x="443.6" y="306.0" width="17.8" height="9.4" fill="#1e7fff" stroke="#888" stroke-width="0.4"/>
<text font-family="Liberation Sans, sans-serif" font-weight="bold" font-size="9.7" x="464.5" y="314.3">6-8</text>
<rect x="443.6" y="320.5" width="17.8" height="9.4" fill="#0a1fe0" stroke="#888" stroke-width="0.4"/>
<text font-family="Liberation Sans, sans-serif" font-weight="bold" font-size="9.7" x="464.5" y="328.8">8-10</text>
<text font-family="Liberation Sans, sans-serif" font-weight="bold" font-size="11.8" x="446.0" y="350">20 km</text>
<rect x="441.5" y="354.9" width="44.9" height="10.6" fill="#fff" stroke="#666" stroke-width="0.8"/>
<rect x="35.1" y="401.3" width="177.2" height="113.3" fill="#fff" stroke="#777" stroke-width="0.6"/>
<rect x="50.70" y="474.57" width="8.30" height="40.03" fill="#22a6de" stroke="#1d3f57" stroke-width="0.5"/>
<rect x="59.00" y="426.98" width="8.30" height="87.62" fill="#22a6de" stroke="#1d3f57" stroke-width="0.5"/>
<rect x="67.30" y="404.43" width="8.30" height="110.17" fill="#22a6de" stroke="#1d3f57" stroke-width="0.5"/>
<rect x="75.60" y="431.21" width="8.30" height="83.39" fill="#22a6de" stroke="#1d3f57" stroke-width="0.5"/>
<rect x="83.90" y="471.77" width="8.30" height="42.83" fill="#22a6de" stroke="#1d3f57" stroke-width="0.5"/>
<rect x="92.20" y="504.03" width="8.30" height="10.57" fill="#22a6de" stroke="#1d3f57" stroke-width="0.5"/>
<rect x="100.50" y="513.09" width="8.30" height="1.51" fill="#22a6de" stroke="#1d3f57" stroke-width="0.5"/>
<text font-family="Liberation Sans, sans-serif" font-weight="bold" font-size="9.6" text-anchor="end" x="32.1" y="518.0">0</text>
<line x1="35.1" x2="36.9" y1="514.6" y2="514.6" stroke="#777" stroke-width="0.5"/>
<line x1="212.3" x2="210.5" y1="514.6" y2="514.6" stroke="#777" stroke-width="0.5"/>
<text font-family="Liberation Sans, sans-serif" font-weight="bold" font-size="9.6" text-anchor="end" x="32.1" y="480.2">0.1</text>
<line x1="35.1" x2="36.9" y1="476.8" y2="476.8" stroke="#777" stroke-width="0.5"/>
<line x1="212.3" x2="210.5" y1="476.8" y2="476.8" stroke="#777" stroke-width="0.5"/>
<text font-family="Liberation Sans, sans-serif" font-weight="bold" font-size="9.6" text-anchor="end" x="32.1" y="442.5">0.2</text>
<line x1="35.1" x2="36.9" y1="439.1" y2="439.1" stroke="#777" stroke-width="0.5"/>
<line x1="212.3" x2="210.5" y1="439.1" y2="439.1" stroke="#777" stroke-width="0.5"/>
<text font-family="Liberation Sans, sans-serif" font-weight="bold" font-size="9.6" text-anchor="end" x="32.1" y="404.7">0.3</text>
<line x1="35.1" x2="36.9" y1="401.3" y2="401.3" stroke="#777" stroke-width="0.5"/>
<line x1="212.3" x2="210.5" y1="401.3" y2="401.3" stroke="#777" stroke-width="0.5"/>
<text font-family="Liberation Sans, sans-serif" font-weight="bold" font-size="9.6" text-anchor="middle" x="42.4" y="527.0">0</text>
<line x1="42.4" x2="42.4" y1="514.6" y2="512.8000000000001" stroke="#777" stroke-width="0.5"/>
<line x1="42.4" x2="42.4" y1="401.3" y2="403.1" stroke="#777" stroke-width="0.5"/>
<text font-family="Liberation Sans, sans-serif" font-weight="bold" font-size="9.6" text-anchor="middle" x="83.9" y="527.0">2</text>
<line x1="83.9" x2="83.9" y1="514.6" y2="512.8000000000001" stroke="#777" stroke-width="0.5"/>
<line x1="83.9" x2="83.9" y1="401.3" y2="403.1" stroke="#777" stroke-width="0.5"/>
<text font-family="Liberation Sans, sans-serif" font-weight="bold" font-size="9.6" text-anchor="middle" x="125.4" y="527.0">4</text>
<line x1="125.4" x2="125.4" y1="514.6" y2="512.8000000000001" stroke="#777" stroke-width="0.5"/>
<line x1="125.4" x2="125.4" y1="401.3" y2="403.1" stroke="#777" stroke-width="0.5"/>
<text font-family="Liberation Sans, sans-serif" font-weight="bold" font-size="9.6" text-anchor="middle" x="166.9" y="527.0">6</text>
<line x1="166.9" x2="166.9" y1="514.6" y2="512.8000000000001" stroke="#777" stroke-width="0.5"/>
<line x1="166.9" x2="166.9" y1="401.3" y2="403.1" stroke="#777" stroke-width="0.5"/>
<text font-family="Liberation Sans, sans-serif" font-weight="bold" font-size="9.6" text-anchor="middle" x="208.4" y="527.0">8</text>
<line x1="208.4" x2="208.4" y1="514.6" y2="512.8000000000001" stroke="#777" stroke-width="0.5"/>
<line x1="208.4" x2="208.4" y1="401.3" y2="403.1" stroke="#777" stroke-width="0.5"/>
<text font-family="Liberation Sans, sans-serif" font-weight="bold" font-size="10" text-anchor="middle" x="124.0" y="540.4">Standard deviation(mm/year)</text>
<text font-family="Liberation Sans, sans-serif" font-weight="bold" font-size="10" text-anchor="middle" transform="translate(15.6 457.6) rotate(-90)">Relative frequency</text>
<text font-family="Liberation Sans, sans-serif" font-weight="bold" font-size="9.9" x="134.6" y="422.9">Mean=0.8mm</text>
<text font-family="Liberation Sans, sans-serif" font-weight="bold" font-size="11.1" text-anchor="end" x="206.4" y="501.0">(e)</text>
<rect x="251.79999999999998" y="401.3" width="177.2" height="113.3" fill="#fff" stroke="#777" stroke-width="0.6"/>
<rect x="275.50" y="514.03" width="8.20" height="0.57" fill="#22a6de" stroke="#1d3f57" stroke-width="0.5"/>
<rect x="283.70" y="505.54" width="8.20" height="9.06" fill="#22a6de" stroke="#1d3f57" stroke-width="0.5"/>
<rect x="291.90" y="453.98" width="8.20" height="60.62" fill="#22a6de" stroke="#1d3f57" stroke-width="0.5"/>
<rect x="300.10" y="413.20" width="8.20" height="101.40" fill="#22a6de" stroke="#1d3f57" stroke-width="0.5"/>
<rect x="308.30" y="448.60" width="8.20" height="66.00" fill="#22a6de" stroke="#1d3f57" stroke-width="0.5"/>
<rect x="316.50" y="488.26" width="8.20" height="26.34" fill="#22a6de" stroke="#1d3f57" stroke-width="0.5"/>
<rect x="324.70" y="504.12" width="8.20" height="10.48" fill="#22a6de" stroke="#1d3f57" stroke-width="0.5"/>
<rect x="332.90" y="509.50" width="8.20" height="5.10" fill="#22a6de" stroke="#1d3f57" stroke-width="0.5"/>
<rect x="341.10" y="512.05" width="8.20" height="2.55" fill="#22a6de" stroke="#1d3f57" stroke-width="0.5"/>
<rect x="349.30" y="513.18" width="8.20" height="1.42" fill="#22a6de" stroke="#1d3f57" stroke-width="0.5"/>
<rect x="357.50" y="514.03" width="8.20" height="0.57" fill="#22a6de" stroke="#1d3f57" stroke-width="0.5"/>
<text font-family="Liberation Sans, sans-serif" font-weight="bold" font-size="9.6" text-anchor="end" x="248.8" y="518.0">0</text>
<line x1="251.79999999999998" x2="253.6" y1="514.6" y2="514.6" stroke="#777" stroke-width="0.5"/>
<line x1="429.0" x2="427.2" y1="514.6" y2="514.6" stroke="#777" stroke-width="0.5"/>
<text font-family="Liberation Sans, sans-serif" font-weight="bold" font-size="9.6" text-anchor="end" x="248.8" y="489.7">0.1</text>
<line x1="251.79999999999998" x2="253.6" y1="486.3" y2="486.3" stroke="#777" stroke-width="0.5"/>
<line x1="429.0" x2="427.2" y1="486.3" y2="486.3" stroke="#777" stroke-width="0.5"/>
<text font-family="Liberation Sans, sans-serif" font-weight="bold" font-size="9.6" text-anchor="end" x="248.8" y="461.4">0.2</text>
<line x1="251.79999999999998" x2="253.6" y1="458.0" y2="458.0" stroke="#777" stroke-width="0.5"/>
<line x1="429.0" x2="427.2" y1="458.0" y2="458.0" stroke="#777" stroke-width="0.5"/>
<text font-family="Liberation Sans, sans-serif" font-weight="bold" font-size="9.6" text-anchor="end" x="248.8" y="433.0">0.3</text>
<line x1="251.79999999999998" x2="253.6" y1="429.6" y2="429.6" stroke="#777" stroke-width="0.5"/>
<line x1="429.0" x2="427.2" y1="429.6" y2="429.6" stroke="#777" stroke-width="0.5"/>
<text font-family="Liberation Sans, sans-serif" font-weight="bold" font-size="9.6" text-anchor="end" x="248.8" y="404.7">0.4</text>
<line x1="251.79999999999998" x2="253.6" y1="401.3" y2="401.3" stroke="#777" stroke-width="0.5"/>
<line x1="429.0" x2="427.2" y1="401.3" y2="401.3" stroke="#777" stroke-width="0.5"/>
<text font-family="Liberation Sans, sans-serif" font-weight="bold" font-size="9.6" text-anchor="middle" x="259.1" y="527.0">0</text>
<line x1="259.1" x2="259.1" y1="514.6" y2="512.8000000000001" stroke="#777" stroke-width="0.5"/>
<line x1="259.1" x2="259.1" y1="401.3" y2="403.1" stroke="#777" stroke-width="0.5"/>
<text font-family="Liberation Sans, sans-serif" font-weight="bold" font-size="9.6" text-anchor="middle" x="291.9" y="527.0">2</text>
<line x1="291.9" x2="291.9" y1="514.6" y2="512.8000000000001" stroke="#777" stroke-width="0.5"/>
<line x1="291.9" x2="291.9" y1="401.3" y2="403.1" stroke="#777" stroke-width="0.5"/>
<text font-family="Liberation Sans, sans-serif" font-weight="bold" font-size="9.6" text-anchor="middle" x="324.7" y="527.0">4</text>
<line x1="324.7" x2="324.7" y1="514.6" y2="512.8000000000001" stroke="#777" stroke-width="0.5"/>
<line x1="324.7" x2="324.7" y1="401.3" y2="403.1" stroke="#777" stroke-width="0.5"/>
<text font-family="Liberation Sans, sans-serif" font-weight="bold" font-size="9.6" text-anchor="middle" x="357.5" y="527.0">6</text>
<line x1="357.5" x2="357.5" y1="514.6" y2="512.8000000000001" stroke="#777" stroke-width="0.5"/>
<line x1="357.5" x2="357.5" y1="401.3" y2="403.1" stroke="#777" stroke-width="0.5"/>
<text font-family="Liberation Sans, sans-serif" font-weight="bold" font-size="9.6" text-anchor="middle" x="390.3" y="527.0">8</text>
<line x1="390.3" x2="390.3" y1="514.6" y2="512.8000000000001" stroke="#777" stroke-width="0.5"/>
<line x1="390.3" x2="390.3" y1="401.3" y2="403.1" stroke="#777" stroke-width="0.5"/>
<text font-family="Liberation Sans, sans-serif" font-weight="bold" font-size="9.6" text-anchor="middle" x="423.1" y="527.0">10</text>
<line x1="423.1" x2="423.1" y1="514.6" y2="512.8000000000001" stroke="#777" stroke-width="0.5"/>
<line x1="423.1" x2="423.1" y1="401.3" y2="403.1" stroke="#777" stroke-width="0.5"/>
<text font-family="Liberation Sans, sans-serif" font-weight="bold" font-size="10" text-anchor="middle" x="340.8" y="540.4">Standard deviation(mm/year)</text>
<text font-family="Liberation Sans, sans-serif" font-weight="bold" font-size="10" text-anchor="middle" transform="translate(232.3 457.6) rotate(-90)">Relative frequency</text>
<text font-family="Liberation Sans, sans-serif" font-weight="bold" font-size="9.9" x="351.3" y="422.9">Mean=1.4mm</text>
<text font-family="Liberation Sans, sans-serif" font-weight="bold" font-size="11.1" text-anchor="end" x="423.1" y="501.0">(f)</text>
</svg></body></html>
